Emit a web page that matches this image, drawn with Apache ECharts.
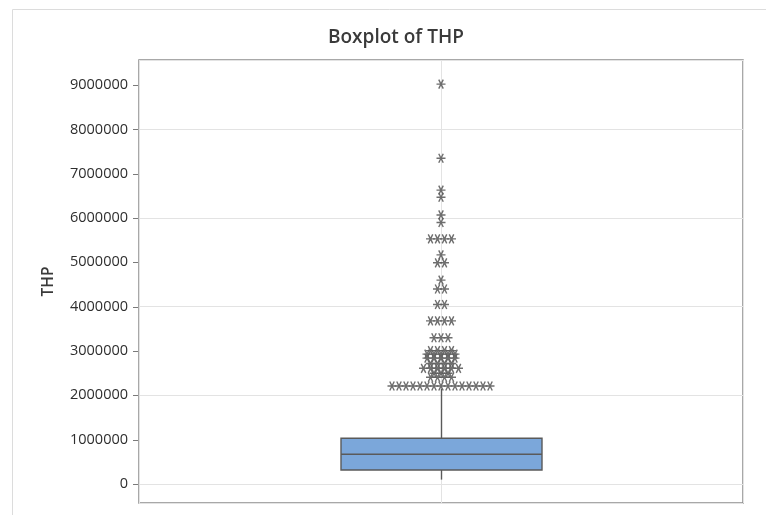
<!DOCTYPE html>
<html>
<head>
<meta charset="utf-8">
<script src="https://cdn.jsdelivr.net/npm/echarts@6/dist/echarts.min.js"></script>
<style>
html,body{margin:0;padding:0;background:#fff;}
#chart{width:766px;height:515px;}
</style>
</head>
<body>
<div id="chart"></div>
<script>
// ---- data ----
const categories = ['THP'];
// [min whisker, Q1, median, Q3, max whisker]
const boxStats = [100000, 316000, 670000, 1031000, 2150000];
// outlier levels (values) and how many tied/near-tied points are stacked at each level
const outlierValues = [9020000, 7350000, 6630000, 6470000, 6070000, 5900000, 5530000, 5170000, 4990000,
  4600000, 4400000, 4050000, 3680000, 3300000, 3010000, 2930000, 2840000, 2720000, 2610000, 2500000, 2410000, 2210000];
const outlierCounts = [1, 1, 1, 1, 1, 1, 4, 1, 2, 1, 2, 2, 4, 3, 4, 5, 5, 4, 6, 3, 4, 15];
const yTickValues = [0, 1000000, 2000000, 3000000, 4000000, 5000000, 6000000, 7000000, 8000000, 9000000];

// ---- layout helpers ----
const plotHalfWidthPx = 302;
const starSpacingPx = 7;
const boxWidthPx = 201;
const tickLenPx = 5;
const outlierPoints = [];
outlierValues.forEach((v, k) => {
  const n = outlierCounts[k];
  for (let i = 0; i < n; i++) {
    const off = (i - (n - 1) / 2) * starSpacingPx / plotHalfWidthPx;
    outlierPoints.push([off, v]);
  }
});

const starPath = 'path://M0,5 L10,5 M2.5,0.67 L7.5,9.33 M7.5,0.67 L2.5,9.33';

function renderBox(params, api) {
  const cat = api.value(0);
  const pMin = api.coord([cat, api.value(1)]);
  const pQ1 = api.coord([cat, api.value(2)]);
  const pMed = api.coord([cat, api.value(3)]);
  const pQ3 = api.coord([cat, api.value(4)]);
  const pMax = api.coord([cat, api.value(5)]);
  const cx = Math.round(pMed[0]) + 0.5;
  const half = boxWidthPx / 2;
  const stroke = {stroke: '#5a5a5a', lineWidth: 1.4};
  return {
    type: 'group',
    children: [
      {type: 'line', shape: {x1: cx, y1: pQ3[1], x2: cx, y2: pMax[1]}, style: stroke},
      {type: 'line', shape: {x1: cx, y1: pQ1[1], x2: cx, y2: pMin[1]}, style: stroke},
      {type: 'rect', shape: {x: cx - half, y: pQ3[1], width: boxWidthPx, height: pQ1[1] - pQ3[1]},
        style: {fill: '#7ba7da', stroke: '#5a5a5a', lineWidth: 1.4}},
      {type: 'line', shape: {x1: cx - half, y1: pMed[1], x2: cx + half, y2: pMed[1]}, style: stroke}
    ]
  };
}

// y-axis tick marks, placed through the axis scales
function renderTick(params, api) {
  const p = api.coord([-1, api.value(0)]);
  const y = Math.round(p[1]) + 0.5;
  return {
    type: 'line',
    shape: {x1: p[0] - tickLenPx - 1, y1: y, x2: p[0] - 1, y2: y},
    style: {stroke: '#7a7a7a', lineWidth: 1}
  };
}

const chart = echarts.init(document.getElementById('chart'), null, {renderer: 'canvas'});
chart.setOption({
  backgroundColor: '#ffffff',
  animation: false,
  title: {
    text: 'Boxplot of THP',
    left: 323, top: 23,
    textStyle: {fontFamily: 'Open Sans', fontSize: 19, fontWeight: 600, color: '#3a3a3a'}
  },
  graphic: [{
    type: 'rect', z: -10, silent: true,
    shape: {x: 12.5, y: 9.5, width: 800, height: 600},
    style: {fill: 'none', stroke: '#dcdcdc', lineWidth: 1}
  }],
  grid: {
    left: 139, right: 23, top: 60, bottom: 12,
    show: true, borderColor: '#8c8c8c', borderWidth: 1.5, backgroundColor: 'transparent'
  },
  xAxis: [{
    type: 'category', data: categories,
    axisLine: {show: false}, axisTick: {show: false}, axisLabel: {show: false},
    splitLine: {show: false}
  }, {
    type: 'value', min: -1, max: 1, interval: 1,
    axisLine: {show: false, onZero: false}, axisTick: {show: false}, axisLabel: {show: false},
    splitLine: {show: true, lineStyle: {color: '#e3e3e3', width: 1}}
  }],
  yAxis: {
    type: 'value', min: -428000, max: 9565000,
    name: 'THP', nameLocation: 'middle', nameGap: 82, nameRotate: 90,
    nameTextStyle: {fontFamily: 'Open Sans', fontSize: 15.5, fontWeight: 600, color: '#3a3a3a'},
    axisLine: {show: false, onZero: false},
    axisTick: {show: false},
    axisLabel: {customValues: yTickValues, formatter: v => String(v), fontFamily: 'Open Sans', fontSize: 14.5, color: '#2e2e2e', margin: 11},
    splitLine: {show: true, lineStyle: {color: '#e3e3e3', width: 1}}
  },
  series: [{
    type: 'custom', xAxisIndex: 0, yAxisIndex: 0,
    renderItem: renderBox,
    encode: {x: 0, y: [1, 2, 3, 4, 5]},
    data: [[0].concat(boxStats)],
    z: 3
  }, {
    type: 'scatter', xAxisIndex: 1, yAxisIndex: 0,
    data: outlierPoints,
    symbol: starPath, symbolSize: 9,
    itemStyle: {color: 'rgba(0,0,0,0)', borderColor: '#5e5e5e', borderWidth: 1.4, opacity: 0.9},
    z: 4
  }, {
    type: 'custom', xAxisIndex: 1, yAxisIndex: 0,
    renderItem: renderTick,
    clip: false,
    encode: {y: 0},
    data: yTickValues.map(v => [v]),
    z: 5
  }]
});
</script>
</body>
</html>
